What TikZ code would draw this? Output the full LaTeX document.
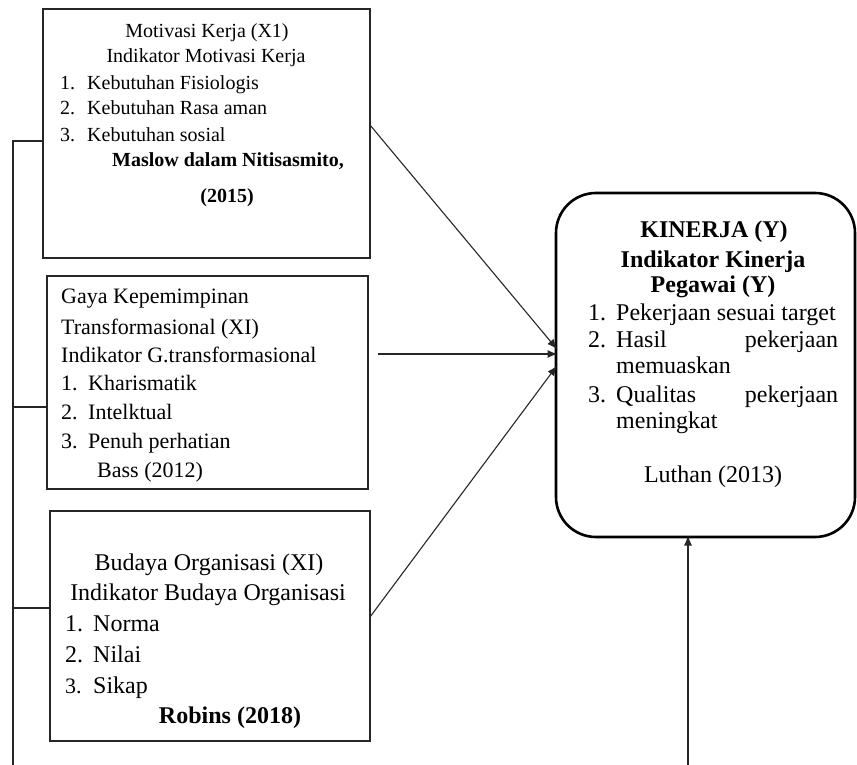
\documentclass[tikz,border=0pt]{standalone}
\usepackage{fontspec}
\setmainfont{Liberation Serif}
\usetikzlibrary{arrows.meta}
\begin{document}
\begin{tikzpicture}[x=1pt,y=-1pt,
  box/.style={draw, line width=1.2pt, inner sep=0pt, outer sep=0pt, rectangle, draw=black!85},
  ybox/.style={draw, line width=2.6pt, rounded corners=40pt, inner sep=0pt, outer sep=0pt, rectangle},
  fA/.style={font=\fontsize{20}{24}\selectfont, inner sep=0pt},
  fB/.style={font=\fontsize{22}{26}\selectfont, inner sep=0pt},
  fC/.style={font=\fontsize{24}{28}\selectfont, inner sep=0pt},
  lw/.style={anchor=base west}, lc/.style={anchor=base},
  conn/.style={line width=1.1pt, draw=black!85},
  arr/.style={conn, -{Latex[length=10pt,width=8pt]}, shorten >=-1.5pt}]
\useasboundingbox (0,0) rectangle (857,765);

% boxes
\node[box, minimum width=327pt, minimum height=249pt] (b1) at (206.5,133.5) {};
\node[box, minimum width=321pt, minimum height=213pt] (b2) at (207.5,382.5) {};
\node[box, minimum width=320pt, minimum height=230pt] (b3) at (210,626) {};
\node[ybox, minimum width=299pt, minimum height=344pt] (y) at (705.5,365) {};

% box 1 text
\node[fA,lc] (t11) at (207,38) {Motivasi Kerja (X1)};
\node[fA,lc] (t12) at (206,63) {Indikator Motivasi Kerja};
\node[fA,lw] (t13n) at (60,90) {1.};
\node[fA,lw] (t13) at (87,90) {Kebutuhan Fisiologis};
\node[fA,lw] (t14n) at (60,115) {2.};
\node[fA,lw] (t14) at (87,115) {Kebutuhan Rasa aman};
\node[fA,lw] (t15n) at (60,142) {3.};
\node[fA,lw] (t15) at (87,142) {Kebutuhan sosial};
\node[fA,lc,font=\fontsize{20}{24}\selectfont\bfseries] (t16) at (228,167) {Maslow dalam Nitisasmito,};
\node[fA,lc,font=\fontsize{20}{24}\selectfont\bfseries] (t17) at (227,202) {(2015)};

% box 2 text
\node[fB,lw] (t21) at (61,303) {Gaya Kepemimpinan};
\node[fB,lw] (t22) at (61,334) {Transformasional (XI)};
\node[fB,lw] (t23) at (61,362) {Indikator G.transformasional};
\node[fB,lw] (t24n) at (61,390) {1.};
\node[fB,lw] (t24) at (88,390) {Kharismatik};
\node[fB,lw] (t25n) at (61,419) {2.};
\node[fB,lw] (t25) at (88,419) {Intelktual};
\node[fB,lw] (t26n) at (61,448) {3.};
\node[fB,lw] (t26) at (88,448) {Penuh perhatian};
\node[fB,lw] (t27) at (97,477) {Bass (2012)};

% box 3 text
\node[fC,lc] (t31) at (209,570) {Budaya Organisasi (XI)};
\node[fC,lc] (t32) at (208,600) {Indikator Budaya Organisasi};
\node[fC,lw] (t33n) at (65,631) {1.};
\node[fC,lw] (t33) at (93,631) {Norma};
\node[fC,lw] (t34n) at (65,662) {2.};
\node[fC,lw] (t34) at (93,662) {Nilai};
\node[fB,lw] (t35n) at (65,693) {3.};
\node[fC,lw] (t35) at (93,693) {Sikap};
\node[fC,lc,font=\fontsize{24}{28}\selectfont\bfseries] (t36) at (230,723) {Robins (2018)};

% Y box text
\node[fC,lc,font=\fontsize{24}{28}\selectfont\bfseries] (ty1) at (714,237) {KINERJA (Y)};
\node[fC,lc,font=\fontsize{24}{28}\selectfont\bfseries] (ty2) at (713,267) {Indikator Kinerja};
\node[fC,lc,font=\fontsize{24}{28}\selectfont\bfseries] (ty3) at (713,292) {Pegawai (Y)};
\node[fC,lw] (ty4n) at (588,320) {1.};
\node[fC,lw] (ty4) at (616,320) {Pekerjaan sesuai target};
\node[fC,lw] (ty5n) at (588,347) {2.};
\node[fC,lw] (ty5) at (616,347) {\makebox[222pt][s]{Hasil\hfill pekerjaan}};
\node[fC,lw] (ty6) at (616,373) {memuaskan};
\node[fC,lw] (ty7n) at (588,402) {3.};
\node[fC,lw] (ty7) at (616,402) {\makebox[222pt][s]{Qualitas\hfill pekerjaan}};
\node[fC,lw] (ty8) at (616,428) {meningkat};
\node[fC,lc] (ty9) at (713,482) {Luthan (2013)};

% connectors
\coordinate (s1) at (370,125);
\coordinate (e1) at (553,348);
\coordinate (s2) at (378,354);
\coordinate (e2) at (553,354);
\coordinate (s3) at (370,617);
\coordinate (e3) at (554,367);
\coordinate (bot) at (688,765);
\draw[arr] (b1.east |- s1) -- (y.west |- e1);
\draw[arr] (s2) -- (y.west |- e2);
\draw[arr] (b3.east |- s3) -- (y.west |- e3);
\draw[arr] (bot) -- (y.south -| bot);

% left bracket
\coordinate (lb) at (13,765);
\coordinate (l1) at (13,141);
\coordinate (l2) at (13,407);
\coordinate (l3) at (13,608);
\draw[conn] (lb) -- (l1) -- (b1.west |- l1);
\draw[conn] (l2) -- (b2.west |- l2);
\draw[conn] (l3) -- (b3.west |- l3);
\end{tikzpicture}
\end{document}
